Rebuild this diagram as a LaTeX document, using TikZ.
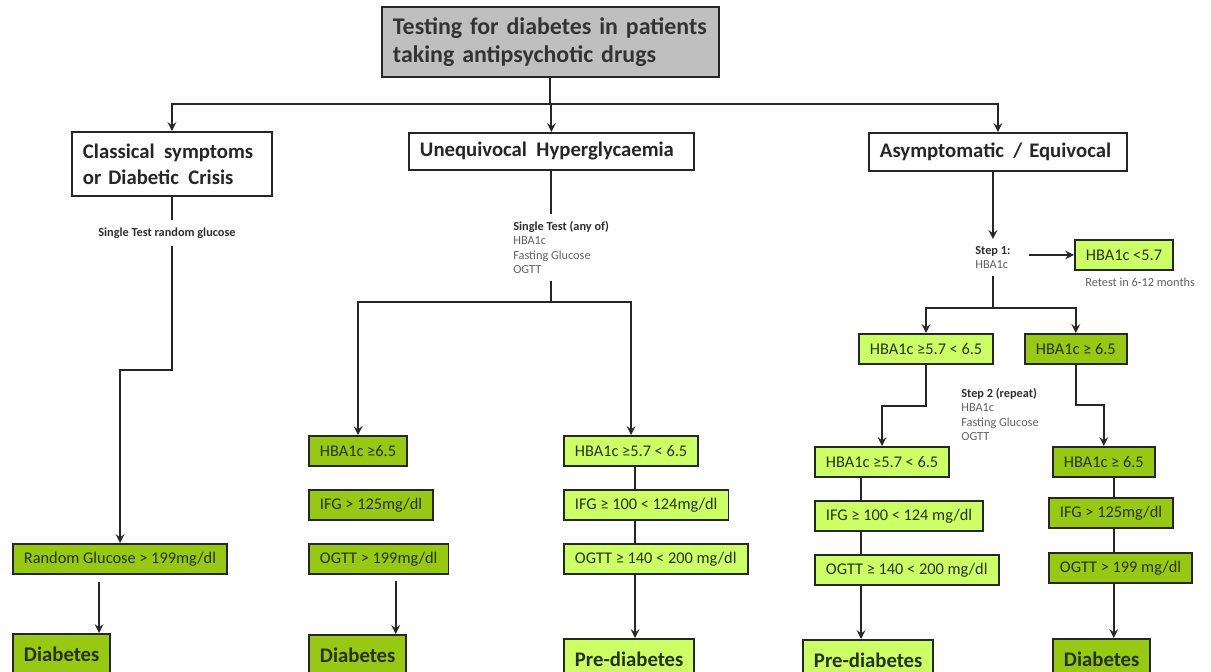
\documentclass[tikz,border=0pt]{standalone}
\usepackage{fontspec}
\setmainfont{Carlito}
\usepackage{tikz}
\usetikzlibrary{
	arrows,
	calc,
	positioning
}
\tikzstyle{every picture}+=[>=stealth]
\definecolor{dgreen}{RGB}{150,200,20}
\definecolor{lgreen}{RGB}{204,255,102}
\definecolor{tgray}{RGB}{191,191,191}
\definecolor{boxtext}{RGB}{40,50,25}
\definecolor{lbltext}{RGB}{95,95,95}
\definecolor{lblhead}{RGB}{45,45,45}

\newcommand\titlefont{\fontsize{13.6}{16}\selectfont\bfseries}
\newcommand\headfont{\fontsize{11.8}{14.8}\selectfont\bfseries}
\newcommand\greenfont{\fontsize{9.3}{11}\selectfont}
\newcommand\lblfont{\fontsize{7}{8.25}\selectfont}
\newcommand\gap{\hspace{0.12em} }

\tikzset{
	headbox/.style={draw=black!85, line width=1.1pt, fill=white, anchor=north west,
		align=left, font=\headfont, text=black!85, inner xsep=0.22cm},
	titlebox/.style={headbox, fill=tgray, font=\titlefont, text=black!80},
	greenbox/.style={draw=black!85, line width=1.1pt, anchor=north west, font=\greenfont,
		text=boxtext, inner xsep=0.22cm, minimum height=0.6cm},
	darkbox/.style={greenbox, fill=dgreen},
	lightbox/.style={greenbox, fill=lgreen},
	darkend/.style={darkbox, font=\headfont, minimum height=0.8cm},
	lightend/.style={lightbox, font=\headfont, minimum height=0.8cm},
	lbl/.style={font=\lblfont, text=lbltext, align=left, inner xsep=0pt, inner ysep=0.14cm},
	link/.style={line width=1.2pt, black!85}
}

\begin{document}
\begin{tikzpicture}[x=0.02cm, y=-0.02cm]
	\clip (0,0) rectangle (1211,672);

	% Top of the tree
		\node[titlebox, text width=6.3cm, minimum height=1.4cm] (title) at (381,6)
			{Testing for diabetes in patients\\taking antipsychotic drugs};
		\node[headbox, text width=3.56cm, minimum height=1.28cm] (classical) at (71,131)
			{Classical\gap symptoms\\or Diabetic\gap Crisis};
		\node[headbox, text width=5.26cm, minimum height=0.74cm] (unequiv) at (408,132)
			{Unequivocal\gap Hyperglycaemia};
		\node[headbox, text width=4.72cm, minimum height=0.76cm] (asympt) at (868,132)
			{Asymptomatic\gap / Equivocal};

	% Classical symptoms
		\node[lbl, text=lblhead, font=\lblfont\bfseries] (rglab) at (167,233) {Single Test random glucose};
		\node[darkbox] (random) at (12,543) {Random Glucose > 199mg/dl};
		\node[darkend] (diab1) at (12,633) {Diabetes};

	% Unequivocal hyperglycaemia
		\node[lbl, anchor=north west] (anyof) at (513,214)
			{\textcolor{lblhead}{\textbf{Single Test (any of)}}\\HBA1c\\Fasting Glucose\\OGTT};
		\node[darkbox] (m1a) at (308,435) {HBA1c ≥6.5};
		\node[darkbox] (m1b) at (308,489) {IFG > 125mg/dl};
		\node[darkbox] (m1c) at (308,543) {OGTT > 199mg/dl};
		\node[darkend] (diab2) at (308,634) {Diabetes};
		\node[lightbox] (m2a) at (563,435) {HBA1c ≥5.7 < 6.5};
		\node[lightbox] (m2b) at (563,489) {IFG ≥ 100 < 124mg/dl};
		\node[lightbox] (m2c) at (563,543) {OGTT ≥ 140 < 200 mg/dl};
		\node[lightend] (pre1) at (563,638) {Pre-diabetes};

	% Asymptomatic / equivocal
		\node[lbl, anchor=north west] (step1) at (975,239)
			{\textcolor{lblhead}{\textbf{Step 1:}}\\HBA1c};
		\node[lightbox] (lt57) at (1074,239) {HBA1c <5.7};
		\node[lbl, anchor=north west, inner sep=0pt] (retest) at (1085,278) {Retest in 6-12 months};
		\node[lightbox] (r1a) at (858,333) {HBA1c ≥5.7 < 6.5};
		\node[darkbox] (r1b) at (1024,333) {HBA1c ≥ 6.5};
		\node[lbl, anchor=north west, inner sep=0pt] (step2) at (961,388)
			{\textcolor{lblhead}{\textbf{Step 2 (repeat)}}\\HBA1c\\Fasting Glucose\\OGTT};
		\node[lightbox] (r2a) at (814,446) {HBA1c ≥5.7 < 6.5};
		\node[lightbox] (r2b) at (814,500) {IFG ≥ 100 < 124 mg/dl};
		\node[lightbox] (r2c) at (814,554) {OGTT ≥ 140 < 200 mg/dl};
		\node[lightend] (pre2) at (802,639) {Pre-diabetes};
		\node[darkbox] (r3a) at (1052,446) {HBA1c ≥ 6.5};
		\node[darkbox] (r3b) at (1048,497) {IFG > 125mg/dl};
		\node[darkbox] (r3c) at (1048,552) {OGTT > 199 mg/dl};
		\node[darkend] (diab3) at (1052,638) {Diabetes};

	% Connectors
		% top split
			\coordinate (bus) at (title.south |- 0,104);
			\draw[link] (title.south) -- (bus);
			\draw[link,->] (bus) -| (classical.north);
			\draw[link,->] (bus) -| (asympt.north);
			\draw[link,->] (bus -| unequiv.north) -- (unequiv.north);
		% left
			\draw[link] (classical.south) -- (classical.south |- rglab.north);
			\coordinate (kinkA) at (classical.south |- 0,370);
			\draw[link,->] (classical.south |- rglab.south) -- (kinkA) -| (random.north);
			\draw[link,->,shorten <=0.14cm] (random.south) ++(-21,0) coordinate (t1) -- (t1 |- diab1.north);
		% middle
			\draw[link] (unequiv.south) -- (unequiv.south |- anyof.north);
			\coordinate (busM) at (unequiv.south |- 0,302);
			\draw[link] (unequiv.south |- anyof.south) -- (busM);
			\draw[link,->] (busM) -| (m1a.north);
			\draw[link,->] (busM) -| (m2a.north);
			\draw[link,->,shorten <=0.12cm] (m1c.south) ++(17,0) coordinate (t2) -- (t2 |- diab2.north);
			\draw[link] (m2a.south) ++(4,0) coordinate (t3) -- (t3 |- m2b.north)
				(t3 |- m2b.south) -- (t3 |- m2c.north);
			\draw[link,->] (t3 |- m2c.south) -- (t3 |- pre1.north);
		% right
			\draw[link,->] (step1.north |- asympt.south) -- (step1.north);
			\draw[link,->,shorten <=0.36cm] (step1.east |- lt57.west) -- (lt57.west);
			\coordinate (busR) at (step1.south |- 0,308);
			\draw[link] (step1.south) -- (busR);
			\draw[link,->] (busR) -| (r1a.north);
			\draw[link,->] (busR) -| (r1b.north);
			\draw[link,->] (r1a.south) -- (r1a.south |- 0,406) -| (r2a.north);
			\draw[link,->] (r1b.south) -- (r1b.south |- 0,405) -| (r3a.north);
			\draw[link] (r2a.south) ++(-21,0) coordinate (t4) -- (t4 |- r2b.north)
				(t4 |- r2b.south) -- (t4 |- r2c.north);
			\draw[link,->] (t4 |- r2c.south) -- (t4 |- pre2.north);
			\draw[link] (r3a.south) ++(10,0) coordinate (t5) -- (t5 |- r3b.north)
				(t5 |- r3b.south) -- (t5 |- r3c.north);
			\draw[link,->] (t5 |- r3c.south) -- (t5 |- diab3.north);
\end{tikzpicture}
\end{document}
